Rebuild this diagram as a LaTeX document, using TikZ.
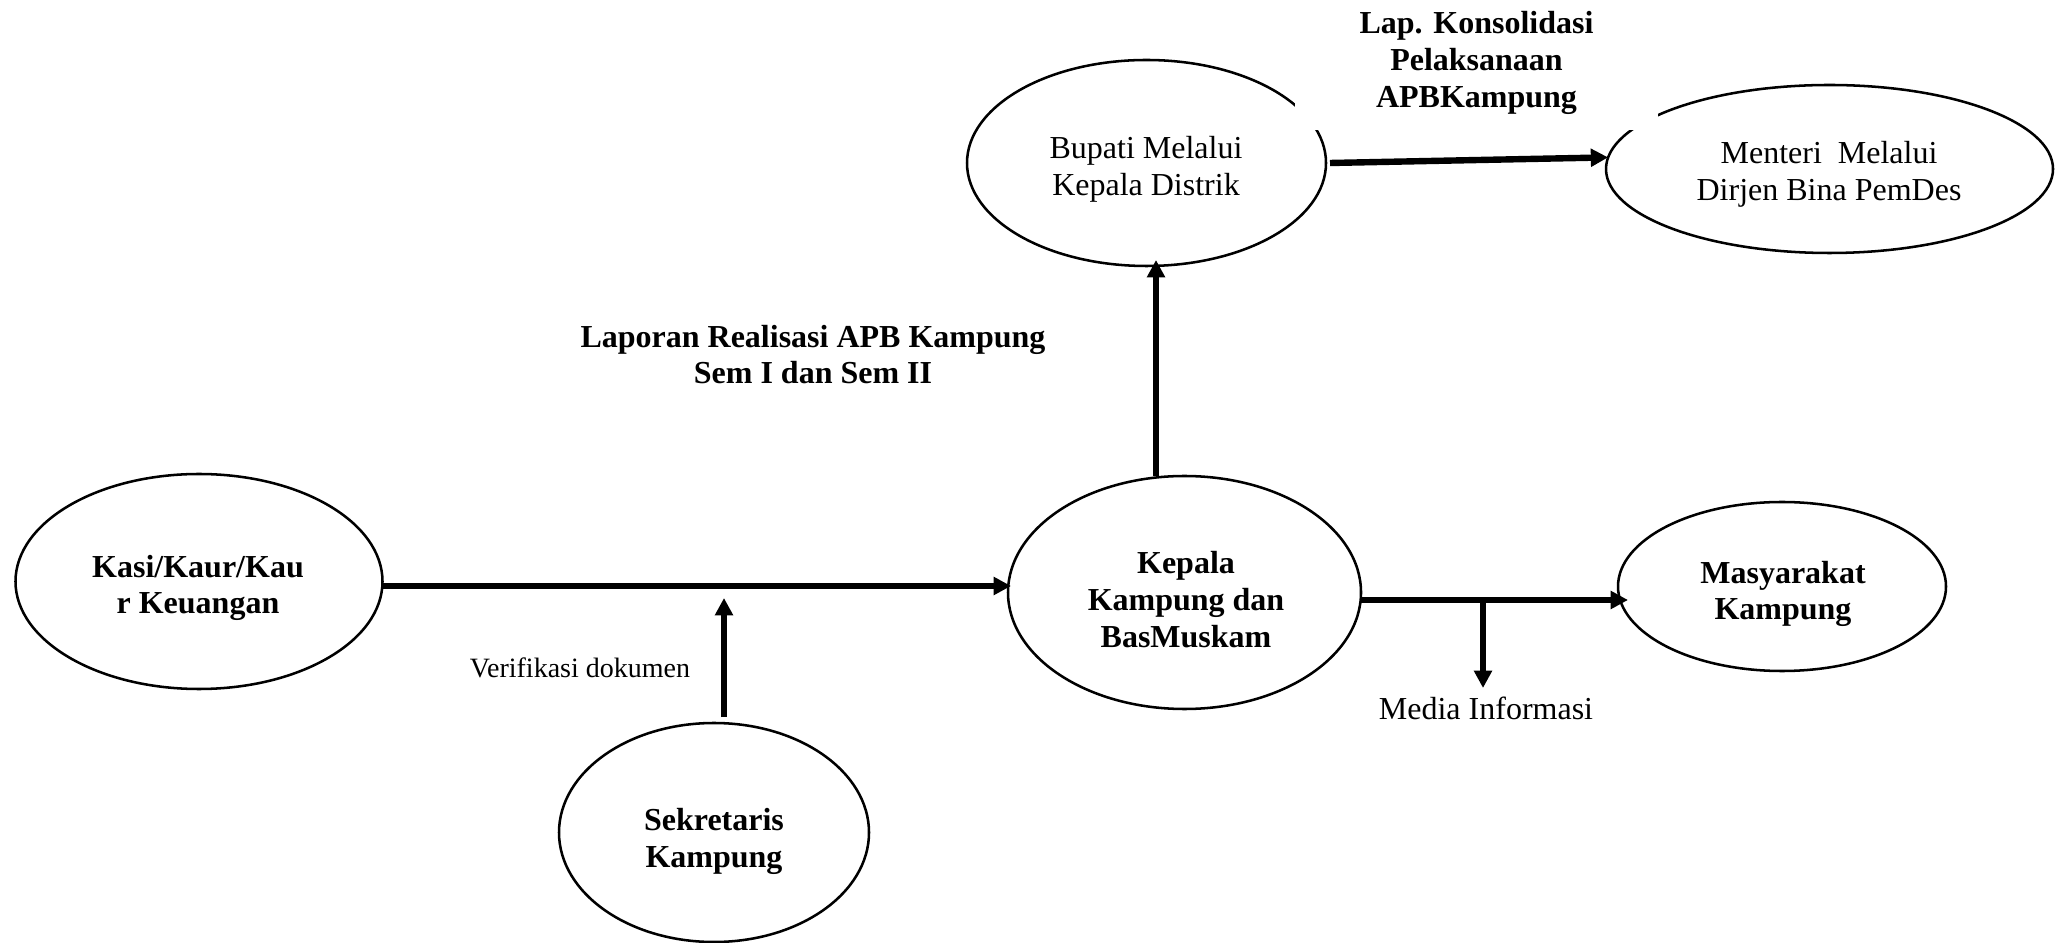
\documentclass[tikz,border=0pt]{standalone}
\usepackage{fontspec}
\setmainfont{Liberation Serif}
\usetikzlibrary{shapes.geometric,arrows.meta,calc}

\begin{document}
\begin{tikzpicture}[
  x=0.375pt, y=-0.375pt,
  ell/.style={draw, ellipse, line width=0.95pt, inner sep=0pt, outer sep=0pt},
  txt/.style={inner sep=0pt, align=center, font=\fontsize{12}{13.8}\selectfont},
  btxt/.style={txt, font=\fontsize{12}{13.8}\selectfont\bfseries},
  arr/.style={line width=2.4pt, -{Triangle[length=6.5pt,width=6.5pt]}}
]
\useasboundingbox (0,0) rectangle (2065,943);

% ellipses
\node[ell, minimum width=137.625pt, minimum height=80.625pt] (kasi)    at (199,581.5) {};
\node[ell, minimum width=116.25pt,  minimum height=82.125pt] (sek)     at (714,832.5) {};
\node[ell, minimum width=132.375pt, minimum height=87.375pt] (kepala)  at (1184.5,592.5) {};
\node[ell, minimum width=123pt,     minimum height=63.375pt] (masy)    at (1782,586.5) {};
\node[ell, minimum width=134.625pt, minimum height=77.25pt]  (bupati)  at (1146.5,163) {};
\node[ell, minimum width=167.625pt, minimum height=63pt]     (menteri) at (1829.5,169) {};

% texts inside the ellipses
\node[btxt] (kasiT)    at (198,588)    {Kasi/Kaur/Kau\\r Keuangan};
\node[btxt] (sekT)     at (714,841.5)  {Sekretaris\\Kampung};
\node[btxt] (kepalaT)  at (1186,599.5) {Kepala\\Kampung dan\\BasMuskam};
\node[btxt] (masyT)    at (1783,594)   {Masyarakat\\Kampung};
\node[txt]  (bupatiT)  at (1146,169)   {Bupati Melalui\\Kepala Distrik};
\node[txt]  (menteriT) at (1829,174.5) {Menteri\ \ Melalui\\Dirjen Bina PemDes};

% free labels
\node[btxt] (lapreal) at (813,354.5) {Laporan Realisasi APB Kampung\\Sem I dan Sem II};
\node[btxt, fill=white, minimum width=136.125pt, minimum height=50.25pt] (lapkons) at (1476.5,63)
  {Lap. Konsolidasi\\Pelaksanaan\\APBKampung};
\node[inner sep=0pt, font=\fontsize{10.5}{12}\selectfont] (verif) at (580,668) {Verifikasi dokumen};
\node[txt] (media) at (1486,708) {Media Informasi};

% arrow end points
\coordinate (k1) at (1011,586);
\coordinate (v)  at (724,598);
\coordinate (b)  at (1156,260);
\coordinate (m)  at (1628,600);
\coordinate (br) at (1483,600);
\coordinate (mi) at (1483,688);

% connectors
\draw[arr] (kasi.east |- k1) -- (k1);
\draw[arr, shorten <=2.25pt] (sek.north -| v) -- (v);
\draw[arr] (kepala.north -| b) -- (b);
\draw[arr] ([xshift=1.5pt]bupati.east) -- (menteri.177);
\draw[arr] (kepala.east |- m) -- (m);
\draw[arr] (br) -- (mi);
\end{tikzpicture}
\end{document}
